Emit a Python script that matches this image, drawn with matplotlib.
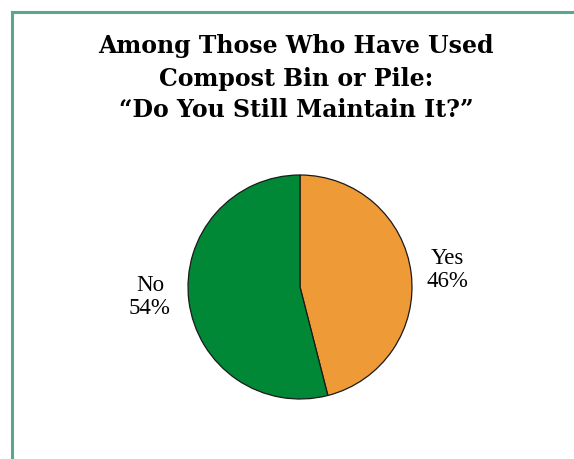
import matplotlib
matplotlib.use("Agg")
import matplotlib.pyplot as plt
from matplotlib.lines import Line2D

title_lines = ["Among Those Who Have Used", "Compost Bin or Pile:", "\u201cDo You Still Maintain It?\u201d"]
categories = ["Yes", "No"]
shares = [46, 54]
colors = ["#EE9A36", "#008837"]

W, H = 574, 459
fig = plt.figure(figsize=(W / 100, H / 100), dpi=100)
fig.patch.set_facecolor("white")

# teal frame along the top and left edges
frame_color = "#5AA690"
fig.add_artist(Line2D([12 / W, 12 / W], [0, 1 - 11.5 / H], color=frame_color, lw=2.2,
                      transform=fig.transFigure, solid_capstyle="projecting"))
fig.add_artist(Line2D([12 / W, 1], [1 - 11.5 / H, 1 - 11.5 / H], color=frame_color, lw=2.2,
                      transform=fig.transFigure, solid_capstyle="projecting"))

# title
baselines = [53, 86, 117]
for line, yb in zip(title_lines, baselines):
    fig.text(296 / W, 1 - yb / H, line, ha="center", va="baseline",
             fontsize=17, fontweight="bold", family="DejaVu Serif")

# pie
cx, cy, r = 300, 287, 112
ax = fig.add_axes([(cx - r) / W, (H - cy - r) / H, 2 * r / W, 2 * r / H])
ax.pie(shares, colors=colors, startangle=90, counterclock=False,
       wedgeprops=dict(edgecolor="#1a1a1a", linewidth=0.9))
ax.set_xlim(-1, 1)
ax.set_ylim(-1, 1)
ax.set_aspect("equal")
ax.axis("off")

label_pos = {"Yes": (447, 270), "No": (150, 297)}
for cat, val in zip(categories, shares):
    px, py = label_pos[cat]
    fig.text(px / W, 1 - py / H, f"{cat}\n{val}%", ha="center", va="center",
             fontsize=16.5, family="Liberation Serif", linespacing=1.12)

fig.savefig("out.png", dpi=100)
